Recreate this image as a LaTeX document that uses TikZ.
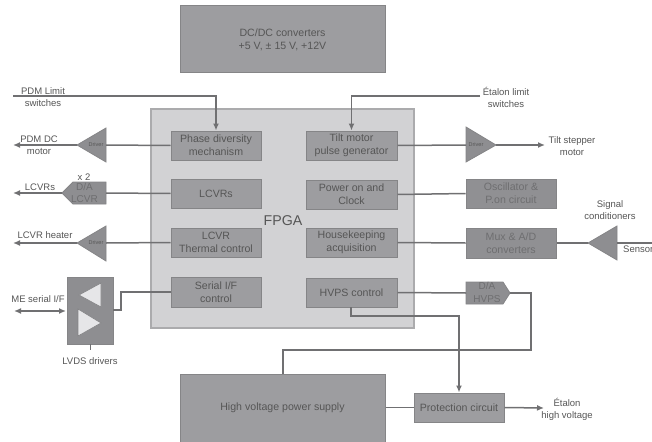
\documentclass[tikz,border=0pt]{standalone}
\usepackage{fontspec}
\setmainfont{Liberation Sans}
\usetikzlibrary{arrows.meta}
\definecolor{boxfill}{HTML}{9D9DA0}
\definecolor{boxline}{HTML}{858587}
\definecolor{darkfill}{HTML}{909093}
\definecolor{fpgafill}{HTML}{D2D2D4}
\definecolor{fpgaline}{HTML}{ABABAD}
\definecolor{txt}{HTML}{565656}
\definecolor{faint}{HTML}{6E6E70}
\definecolor{wirec}{HTML}{707072}
\definecolor{lblc}{HTML}{555555}
\definecolor{drvfill}{HTML}{8E8E91}
\definecolor{trifill}{HTML}{E6E6E8}
\tikzset{
  ibox/.style={draw=boxline, line width=1pt, fill=boxfill, text=txt,
    font=\fontsize{10.6}{13}\selectfont, align=center, inner sep=0pt},
  dbox/.style={ibox, fill=darkfill, text=faint},
  wire/.style={draw=wirec, line width=1.5pt},
  arr/.style={wire, -{Latex[length=7pt,width=6pt]}},
  darr/.style={wire, {Latex[length=7pt,width=6pt]}-{Latex[length=7pt,width=6pt]}},
  lbl/.style={text=lblc, font=\fontsize{9.5}{12}\selectfont, align=center, inner sep=0pt},
  drv/.style={draw=boxline, line width=0.8pt, fill=drvfill},
  drvtext/.style={text=txt, font=\fontsize{5.5}{6}\selectfont, inner sep=0pt}
}
\begin{document}
\begin{tikzpicture}[x=1pt,y=-1pt]
\useasboundingbox (0,0) rectangle (652,441);
% DC/DC
\node[ibox, minimum width=205, minimum height=67] (dcdc) at (282.5,39.5) {DC/DC converters\\+5 V, ± 15 V, +12V};
% FPGA
\node[draw=fpgaline, line width=1.2pt, fill=fpgafill, minimum width=263, minimum height=219] (fpga) at (282.5,218.5) {};
\node[text=txt, font=\fontsize{14.2}{16}\selectfont, inner sep=0pt] (fpgalbl) at (283,221) {FPGA};
% inner boxes
\node[ibox, minimum width=90, minimum height=29] (phase) at (216,145.5) {Phase diversity\\mechanism};
\node[ibox, minimum width=91, minimum height=29] (tilt) at (351.5,145.5) {Tilt motor\\pulse generator};
\node[ibox, minimum width=90, minimum height=29] (lcvrs) at (216,193.5) {LCVRs};
\node[ibox, minimum width=91, minimum height=29] (power) at (351.5,194.5) {Power on and\\Clock};
\node[ibox, minimum width=90, minimum height=29] (thermal) at (216,242.5) {LCVR\\Thermal control};
\node[ibox, minimum width=91, minimum height=29] (house) at (351.5,242.5) {Housekeeping\\acquisition};
\node[ibox, minimum width=90, minimum height=30] (serial) at (216,292) {Serial I/F\\control};
\node[ibox, minimum width=91, minimum height=29] (hvpsc) at (351.5,292.5) {HVPS control};
% right boxes
\node[dbox, minimum width=90, minimum height=29] (osc) at (511,193.5) {Oscillator \&\\P.on circuit};
\node[dbox, minimum width=90, minimum height=30] (mux) at (511,243) {Mux \& A/D\\converters};
% HV power supply and protection
\node[ibox, minimum width=205, minimum height=68] (hv) at (282.5,408) {High voltage power supply};
\node[ibox, minimum width=90, minimum height=29] (prot) at (459,407.5) {Protection circuit};

% drivers
\draw[drv] (77,145) -- (106,128) -- (106,162) -- cycle;
\node[drvtext] (drv1) at (96,145) {Driver};
\coordinate (drv1in) at (106,145); \coordinate (drv1out) at (77,145);
\draw[drv] (77,243) -- (106,226) -- (106,261) -- cycle;
\node[drvtext] (drv2) at (96,243) {Driver};
\coordinate (drv2in) at (106,243); \coordinate (drv2out) at (77,243);
\draw[drv] (496,145) -- (466,127) -- (466,162) -- cycle;
\node[drvtext] (drv3) at (476,145) {Driver};
\coordinate (drv3in) at (466,145); \coordinate (drv3out) at (496,145);
% signal conditioner
\draw[drv] (588,243) -- (617,226) -- (617,260) -- cycle;
\coordinate (sigout) at (588,243); \coordinate (sigin) at (617,243);
% D/A LCVR
\draw[drv] (106,182) -- (73,182) -- (62,193) -- (73,204) -- (106,204) -- cycle;
\node[text=faint, font=\fontsize{10}{12}\selectfont, align=center, inner sep=0pt] (dalcvr) at (84.5,193) {D/A\\LCVR};
\coordinate (dalin) at (106,193); \coordinate (dalout) at (62,193);
% D/A HVPS
\draw[drv] (466,282) -- (503,282) -- (510,293) -- (503,304) -- (466,304) -- cycle;
\node[text=faint, font=\fontsize{10}{12.5}\selectfont, align=center, inner sep=0pt] (dahv) at (487,292.5) {D/A\\HVPS};
\coordinate (dahin) at (466,293); \coordinate (dahout) at (510,293);
% LVDS
\node[draw=boxline, line width=0.8pt, fill=drvfill, minimum width=46, minimum height=67, inner sep=0pt] (lvds) at (90,310.5) {};
\draw[draw=boxline, line width=0.6pt, fill=trifill] (79,295) -- (101,283) -- (101,307) -- cycle;
\draw[draw=boxline, line width=0.6pt, fill=trifill] (101,323) -- (78,309) -- (78,336) -- cycle;
\coordinate (lvdsin) at (113,310);

% free ends
\coordinate (pdmls) at (13,96);
\coordinate (etls) at (480,96);
\coordinate (pdmm) at (13,145);
\coordinate (lcvrend) at (13,193);
\coordinate (heatend) at (13,243);
\coordinate (meA) at (14,311);
\coordinate (meB) at (66,311);
\coordinate (tiltend) at (545,145);
\coordinate (sensend) at (652,243);
\coordinate (hvend) at (544,408);

% wires
\draw[arr] (pdmls) -| (phase.north);
\draw[arr] (etls) -| (tilt.north);
\draw[wire] (phase.west) -- (drv1in);
\draw[arr] (drv1out) -- (pdmm);
\draw[wire] (lcvrs.west) -- (dalin);
\draw[arr] (dalout) -- (lcvrend);
\draw[wire] (thermal.west) -- (drv2in);
\draw[arr] (drv2out) -- (heatend);
\draw[wire] (serial.west) -- (121,292) -- (121,310) -- (lvdsin);
\draw[darr] (meA) -- (meB);
\draw[wire, line width=1pt] (lvds.south) -- ++(0,6);
\draw[wire] (tilt.east) -- (drv3in);
\draw[arr] (drv3out) -- (tiltend);
\draw[wire] (power.east) -- (osc.west);
\draw[wire] (house.east) -- (mux.west);
\draw[wire] (mux.east) -- (sigout);
\draw[wire] (sigin) -- (sensend);
\draw[wire] (hvpsc.east) -- (dahin);
\draw[wire] (dahout) -- (531,293) -- (531,350) -- (283,350) -- (283,374);
\draw[arr] (351,307) -- (351,316) -- (459,316) -- (prot.north);
\draw[wire] (hv.east |- prot.west) -- (prot.west);
\draw[arr] (prot.east) -- (hvend);

% labels
\node[lbl] (l1) at (43,97) {PDM Limit\\switches};
\node[lbl] (l2) at (39,145.5) {PDM DC\\motor};
\node[lbl] (l3) at (40,187) {LCVRs};
\node[lbl] (l3b) at (84,177) {x 2};
\node[lbl] (l4) at (45,235) {LCVR heater};
\node[lbl] (l5) at (38,299) {ME serial I/F};
\node[lbl] (l6) at (90,361) {LVDS drivers};
\node[lbl] (l7) at (506,97) {Étalon limit\\switches};
\node[lbl] (l8) at (572,146) {Tilt stepper\\motor};
\node[lbl] (l9) at (610,210.5) {Signal\\conditioners};
\node[lbl, anchor=west] (l10) at (623,249) {Sensor};
\node[lbl] (l11) at (567,409.5) {Étalon\\high voltage};
\end{tikzpicture}
\end{document}
